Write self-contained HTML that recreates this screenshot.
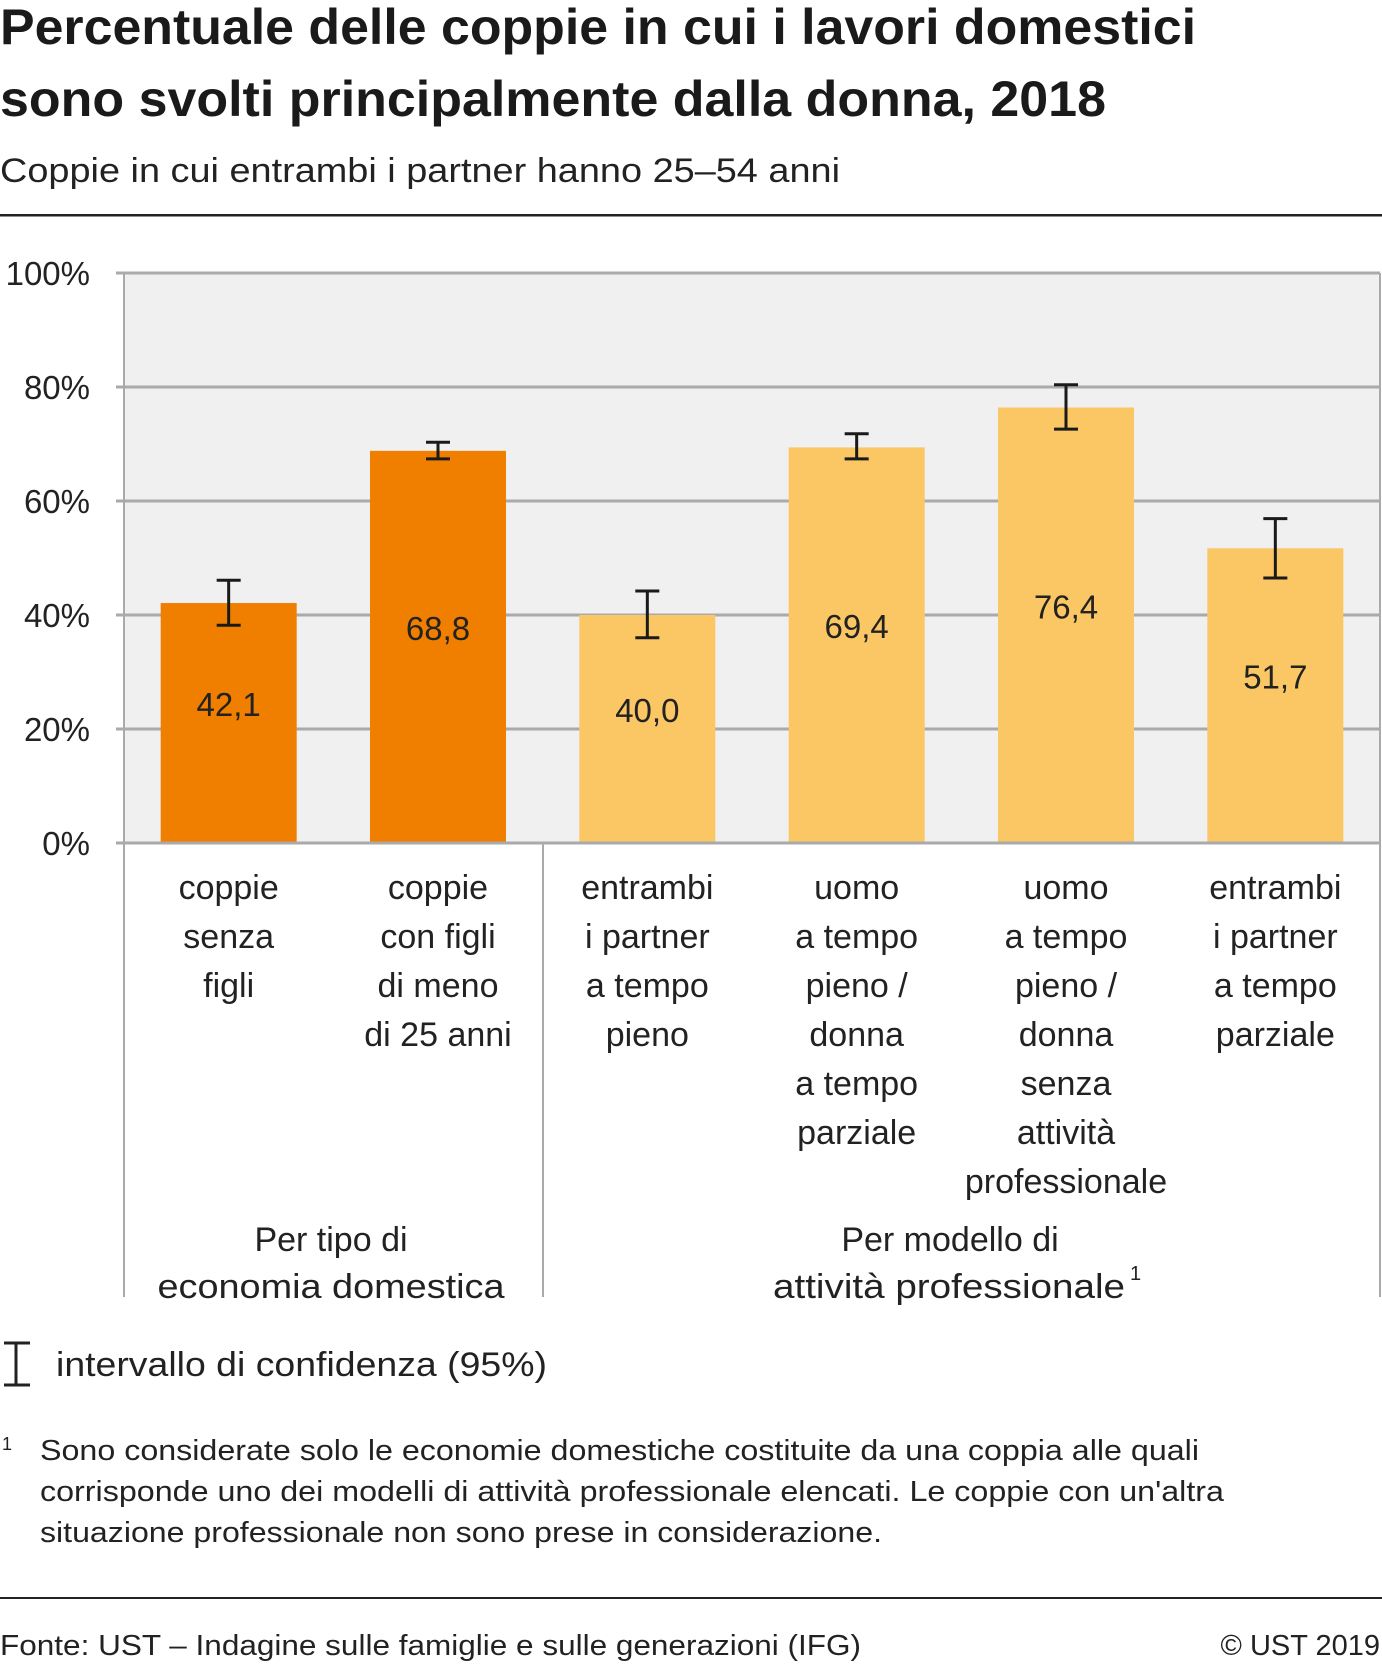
<!DOCTYPE html>
<html><head><meta charset="utf-8"><style>
html,body{margin:0;padding:0;background:#fff}
svg{display:block;font-family:"Liberation Sans",sans-serif}
</style></head><body>
<svg id="c" width="1382" height="1667" viewBox="0 0 1382 1667">
<text x="0" y="44" font-size="50" font-weight="bold" fill="#1a1a1a" textLength="1196" lengthAdjust="spacingAndGlyphs">Percentuale delle coppie in cui i lavori domestici</text>
<text x="0" y="116" font-size="50" font-weight="bold" fill="#1a1a1a" textLength="1106" lengthAdjust="spacingAndGlyphs">sono svolti principalmente dalla donna, 2018</text>
<text x="0" y="182" font-size="34" fill="#222" textLength="840" lengthAdjust="spacingAndGlyphs">Coppie in cui entrambi i partner hanno 25–54 anni</text>
<rect x="0" y="214" width="1382" height="2.5" fill="#222"/>
<rect x="124" y="273" width="1256" height="570" fill="#f0f0f0"/>
<g id="grid"></g>
<g id="bars"></g>
<g id="labels"></g>
<line x1="124" y1="273" x2="124" y2="1297" stroke="#aaa" stroke-width="2"/>
<line x1="1380" y1="273" x2="1380" y2="1297" stroke="#aaa" stroke-width="2"/>
<line x1="543" y1="843" x2="543" y2="1297" stroke="#aaa" stroke-width="2"/>
<g font-size="34" fill="#222" text-anchor="middle">
<text x="331" y="1251">Per tipo di</text>
<text x="331" y="1298" textLength="347" lengthAdjust="spacingAndGlyphs">economia domestica</text>
<text x="950" y="1251">Per modello di</text>
<text x="949" y="1298" textLength="352" lengthAdjust="spacingAndGlyphs">attività professionale</text>
</g>
<text x="1130" y="1280" font-size="20" fill="#222">1</text>
<g stroke="#222" stroke-width="3">
<line x1="16" y1="1343" x2="16" y2="1385"/><line x1="4" y1="1343" x2="30" y2="1343"/><line x1="4" y1="1385" x2="30" y2="1385"/>
</g>
<text x="56" y="1376" font-size="34" fill="#222" textLength="491" lengthAdjust="spacingAndGlyphs">intervallo di confidenza (95%)</text>
<text x="2" y="1450" font-size="18" fill="#222">1</text>
<g font-size="29" fill="#222">
<text x="40" y="1460" textLength="1159" lengthAdjust="spacingAndGlyphs">Sono considerate solo le economie domestiche costituite da una coppia alle quali</text>
<text x="40" y="1501" textLength="1184" lengthAdjust="spacingAndGlyphs">corrisponde uno dei modelli di attività professionale elencati. Le coppie con un'altra</text>
<text x="40" y="1542" textLength="842" lengthAdjust="spacingAndGlyphs">situazione professionale non sono prese in considerazione.</text>
</g>
<rect x="0" y="1597" width="1382" height="2" fill="#222"/>
<text x="0" y="1655" font-size="29" fill="#222" textLength="861" lengthAdjust="spacingAndGlyphs">Fonte: UST – Indagine sulle famiglie e sulle generazioni (IFG)</text>
<text x="1380" y="1655" font-size="29" fill="#222" text-anchor="end">© UST 2019</text>
</svg>
<script>
const categories=[["coppie","senza","figli"],["coppie","con figli","di meno","di 25 anni"],["entrambi","i partner","a tempo","pieno"],["uomo","a tempo","pieno /","donna","a tempo","parziale"],["uomo","a tempo","pieno /","donna","senza","attività","professionale"],["entrambi","i partner","a tempo","parziale"]];
const values=[42.1,68.8,40.0,69.4,76.4,51.7];
const valueLabels=["42,1","68,8","40,0","69,4","76,4","51,7"];
const ciLow=[38.2,67.4,36.0,67.4,72.6,46.5];
const ciHigh=[46.1,70.3,44.2,71.8,80.4,56.9];
const groupOf=[0,0,1,1,1,1];
const ticks=[0,20,40,60,80,100];
const tickLabels=["0%","20%","40%","60%","80%","100%"];
const NS="http://www.w3.org/2000/svg";
const X0=124,X1=1380,Y0=843,Y1=273,BW=136;
const band=(X1-X0)/categories.length;
const y=v=>Y0-(v/100)*(Y0-Y1);
const xc=i=>X0+band*(i+0.5);
function mk(tag,attrs,parent){const e=document.createElementNS(NS,tag);for(const k in attrs)e.setAttribute(k,attrs[k]);document.getElementById(parent).appendChild(e);return e;}
ticks.forEach((t,i)=>{
 const l=mk('line',{x1:X0-8,x2:X1,y1:y(t),y2:y(t),stroke:'#aaa','stroke-width':3},'grid');
 
 
 const tx=mk('text',{x:90,y:y(t)+12,'font-size':33,'text-anchor':'end',fill:'#222'},'grid');
 tx.textContent=tickLabels[i];
 
 
});
values.forEach((v,i)=>{
 const r=mk('rect',{x:xc(i)-BW/2,y:y(v),width:BW,height:Y0-y(v)-1.5,fill:groupOf[i]?'#fbc664':'#f07f00'},'bars');
 
 
 const g=mk('g',{stroke:'#1a1a1a','stroke-width':3},'bars');
 
 
 const c=xc(i);
 [[c,y(ciLow[i]),c,y(ciHigh[i])],[c-12,y(ciLow[i]),c+12,y(ciLow[i])],[c-12,y(ciHigh[i]),c+12,y(ciHigh[i])]].forEach(a=>{
  const l=document.createElementNS(NS,'line');l.setAttribute('x1',a[0]);l.setAttribute('y1',a[1]);l.setAttribute('x2',a[2]);l.setAttribute('y2',a[3]);g.appendChild(l);});
 const t=mk('text',{x:c,y:y(v/2)-18+11,'font-size':33,'text-anchor':'middle',fill:'#222'},'bars');
 t.textContent=valueLabels[i];
 
 
 categories[i].forEach((line,j)=>{
  const ct=mk('text',{x:c,y:899+j*49,'font-size':34,'text-anchor':'middle',fill:'#222'},'labels');
  ct.textContent=line;
  
  
 });
});
</script>
</body></html>
